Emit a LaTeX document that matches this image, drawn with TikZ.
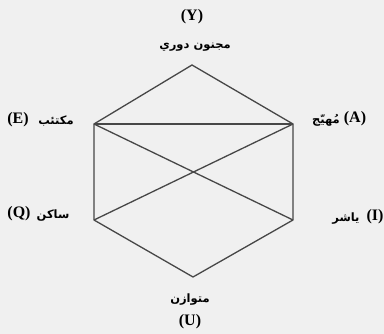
\documentclass[tikz,border=0pt]{standalone}
\usepackage{fontspec}
\setmainfont{Liberation Serif}
\newfontfamily\arabicfont[Script=Arabic]{DejaVu Sans}
\TeXXeTstate=1
\begin{document}
\begin{tikzpicture}[x=1pt,y=-1pt,
  edge/.style={draw=black!72,line width=1.3pt},
  lat/.style={inner sep=0pt,font=\fontsize{16}{18}\selectfont\bfseries},
  ar/.style={inner sep=0pt,font=\arabicfont\fontsize{11.5}{13}\selectfont\bfseries}]
\fill[black!6] (0,0) rectangle (384,334);
\useasboundingbox (0,0) rectangle (384,334);
\coordinate (Y) at (192,65);
\coordinate (E) at (94,124);
\coordinate (A) at (293,124);
\coordinate (Q) at (94,220);
\coordinate (I) at (293,220);
\coordinate (U) at (193,277);
\draw[edge] (Y) -- (A) -- (I) -- (U) -- (Q) -- (E) -- cycle;
\draw[edge] (E) -- (A);
\draw[edge] (E) -- (I);
\draw[edge] (A) -- (Q);
\node[lat] (lY) at (192,17) {(Y)};
\node[ar] (tY) at (195,47) {\beginR مجنون دوري\endR};
\node[lat] (lE) at (18,120) {(E)};
\node[ar] (tE) at (56,121) {\beginR مكتئب\endR};
\node[ar] (tA) at (326,120) {\beginR مُهيّج\endR};
\node[lat] (lA) at (355,119) {(A)};
\node[lat] (lQ) at (19,214) {(Q)};
\node[ar] (tQ) at (53,216) {\beginR ساكن\endR};
\node[ar] (tI) at (346,219) {\beginR ياشر\endR};
\node[lat] (lI) at (375,217) {(I)};
\node[ar] (tU) at (190,300) {\beginR متوازن\endR};
\node[lat] (lU) at (190,322) {(U)};
\end{tikzpicture}
\end{document}
